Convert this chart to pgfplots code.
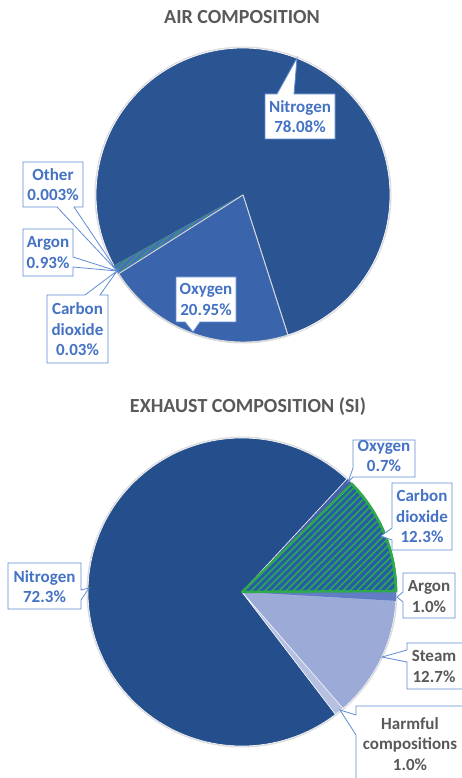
\documentclass[border=0pt]{standalone}
\usepackage{pgfplots}
\pgfplotsset{compat=1.18}
\usetikzlibrary{patterns.meta}
\usepackage{fontspec}
\setmainfont{Carlito}

% slice colours
\definecolor{airN}{RGB}{43,85,146}
\definecolor{airO}{RGB}{58,100,172}
\definecolor{airAr}{RGB}{74,110,190}
\definecolor{exN}{RGB}{37,79,140}
\definecolor{exO}{RGB}{66,98,170}
\definecolor{exAr}{RGB}{98,124,198}
\definecolor{exSteam}{RGB}{155,170,214}
\definecolor{exHarm}{RGB}{182,193,226}
\definecolor{coBlue}{RGB}{38,92,168}
\definecolor{coGreen}{RGB}{46,170,76}
% label colours
\definecolor{lblBlue}{RGB}{68,114,196}
\definecolor{lblGray}{RGB}{89,89,89}
\definecolor{boxLine}{RGB}{96,140,212}

% running start angle of the next slice (degrees, counter-clockwise)
\gdef\pieangle{0}
% \pieslice{cx}{cy}{r}{percent}{style}
\newcommand\pieslice[5]{%
  \pgfmathsetmacro\piebend{\pieangle+3.6*#4}%
  \edef\dopieslice{\noexpand\addplot[#5, domain=\pieangle:\piebend, samples=120, line join=round]
    ({#1+#3*cos(x)},{#2-#3*sin(x)}) -- (axis cs:#1,#2) -- cycle;}%
  \dopieslice
  \xdef\pieangle{\piebend}%
}

\tikzset{
  callout/.style={draw=boxLine, line width=0.8pt, fill=white, line join=miter},
  lbl/.style={align=center, font=\fontsize{17}{20.5}\selectfont\bfseries, text=lblBlue, inner sep=0pt},
  lblg/.style={lbl, text=lblGray},
  ttl/.style={font=\fontsize{20}{24}\selectfont\bfseries, text=lblGray, inner sep=0pt},
}

\begin{document}
\begin{tikzpicture}
\useasboundingbox (0,0) rectangle (461pt,778pt);

% ---------------- air ----------------
\begin{axis}[at={(0pt,398pt)}, anchor=south west,
  width=461pt, height=380pt, scale only axis,
  xmin=0, xmax=461, ymin=0, ymax=380, y dir=reverse,
  hide axis, clip=false]
\addplot[draw=black!14, line width=3pt, domain=0:360, samples=180] ({243+147*cos(x)},{195-147*sin(x)});
\gdef\pieangle{-72.2}
\pieslice{243}{195}{147}{78.08}{fill=airN, draw=white, line width=0.7pt}
\pieslice{243}{195}{147}{0.003}{fill=airN, draw=airN, line width=0.3pt}
\pieslice{243}{195}{147}{0.03}{fill=coGreen, draw=coGreen, line width=0.8pt}
\pieslice{243}{195}{147}{0.93}{fill=airAr, draw=airAr, line width=0.3pt, postaction={pattern={Lines[angle=45,distance=4pt,line width=1.2pt]}, pattern color=coGreen}}
\pieslice{243}{195}{147}{20.95}{fill=airO, draw=white!85!black, line width=0.9pt}

\node[ttl] at (242,17) {AIR COMPOSITION};

% callouts
\draw[callout] (265,94) -- (277,94) -- (297,58) -- (294,94) -- (335,94) -- (335,139) -- (265,139) -- cycle;
\node[lbl] at (300,116.5) {Nitrogen\\78.08\%};

\draw[callout] (176,277) -- (236,277) -- (236,322) -- (200,322) -- (193,332) -- (185,322) -- (176,322) -- cycle;
\node[lbl] at (206,299.5) {Oxygen\\20.95\%};

\draw[callout] (23,162) -- (83,162) -- (83,207) -- (74,207) -- (117,271) -- (57,207) -- (23,207) -- cycle;
\node[lbl] at (53,184.5) {Other\\0.003\%};

\draw[callout] (23,229) -- (73,229) -- (73,257) -- (117,271) -- (73,267) -- (73,276) -- (23,276) -- cycle;
\node[lbl] at (48,252.5) {Argon\\0.93\%};

\draw[callout] (47,295) -- (85,295) -- (117,271) -- (100,295) -- (108,295) -- (108,363) -- (47,363) -- cycle;
\node[lbl] at (77.5,329.5) {Carbon\\dioxide\\0.03\%};
\end{axis}

% ---------------- exhaust ----------------
\begin{axis}[at={(0pt,0pt)}, anchor=south west,
  width=461pt, height=398pt, scale only axis,
  xmin=0, xmax=461, ymin=380, ymax=778, y dir=reverse,
  hide axis, clip=false]
\addplot[draw=black!14, line width=3pt, domain=0:360, samples=180] ({242+154*cos(x)},{592-154*sin(x)});
\gdef\pieangle{0.3}
\pieslice{242}{592}{154}{12.3}{fill=coBlue, draw=coGreen, line width=2.2pt, postaction={pattern={Lines[angle=45,distance=5pt,line width=1.6pt]}, pattern color=coGreen}}
\pieslice{242}{592}{154}{0.7}{fill=exO, draw=exO, line width=0.3pt}
\pieslice{242}{592}{154}{72.3}{fill=exN, draw=white, line width=0.6pt}
\pieslice{242}{592}{154}{1.0}{fill=exHarm, draw=white, line width=0.4pt}
\pieslice{242}{592}{154}{12.7}{fill=exSteam, draw=white, line width=0.4pt}
\pieslice{242}{592}{154}{1.0}{fill=exAr, draw=exAr, line width=0.3pt}
% redraw the carbon dioxide outline on top
\gdef\pieangle{0.3}
\pieslice{242}{592}{154}{12.3}{draw=coGreen, line width=2.2pt}

\node[ttl] at (248,407) {EXHAUST COMPOSITION (SI)};

\draw[callout] (353,440) -- (415,440) -- (415,477) -- (353,477) -- (348,482) -- (353,468) -- cycle;
\node[lbl] at (384,456) {Oxygen\\0.7\%};

\draw[callout] (392,483) -- (452,483) -- (452,550) -- (392,550) -- (392,540) -- (381,536) -- (392,528) -- cycle;
\node[lbl] at (422,516.5) {Carbon\\dioxide\\12.3\%};

\draw[callout] (403,573) -- (455,573) -- (455,618) -- (403,618) -- (403,602) -- (397,597) -- (403,592) -- cycle;
\node[lblg] at (429,596.5) {Argon\\1.0\%};

\draw[callout] (407,643) -- (463,643) -- (463,689) -- (407,689) -- (407,662) -- (382,657) -- (407,650) -- cycle;
\node[lblg] at (434,666.5) {Steam\\12.7\%};

\draw[callout] (356,706) -- (463,706) -- (463,790) -- (356,790) -- (356,735) -- (340,710) -- (356,715) -- cycle;
\node[lblg] at (410,744) {Harmful\\compositions\\1.0\%};

\draw[callout] (8,563) -- (81,563) -- (81,590) -- (89,588) -- (81,600) -- (81,609) -- (8,609) -- cycle;
\node[lbl] at (44.5,586.5) {Nitrogen\\72.3\%};
\end{axis}
\end{tikzpicture}
\end{document}
